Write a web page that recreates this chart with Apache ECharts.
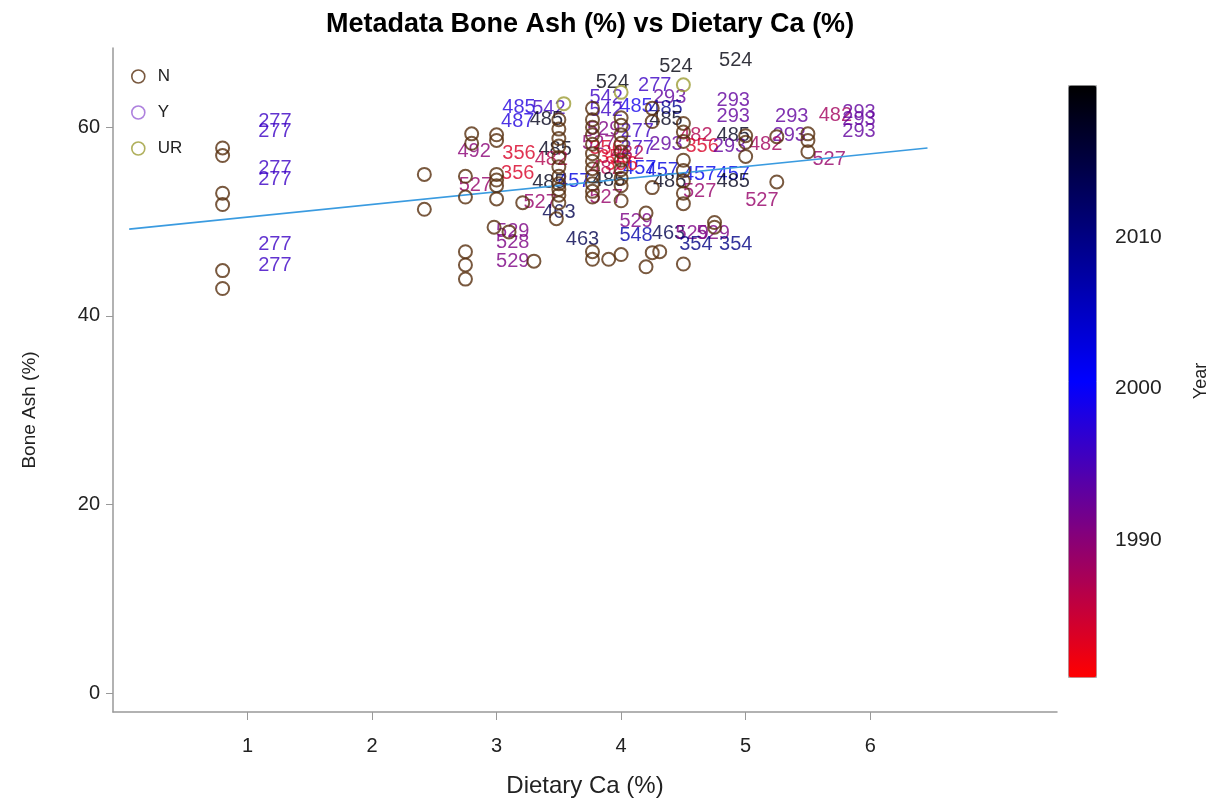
<!DOCTYPE html>
<html>
<head>
<meta charset="utf-8">
<script src="https://cdn.jsdelivr.net/npm/echarts@6/dist/echarts.min.js"></script>
<style>html,body{margin:0;padding:0;background:#fff}#c{width:1217px;height:808px}</style>
</head>
<body>
<div id="c"></div>
<script>
// ---- data ----
const xTicks = [1, 2, 3, 4, 5, 6];
const yTicks = [0, 20, 40, 60];
const yearTicks = [1990, 2000, 2010];
const groups = ['N', 'Y', 'UR'];

// circles: [dietary Ca %, bone ash %]
const circlesN = [
  [0.8,57.8],[0.8,57.0],[0.8,53.0],[0.8,51.8],[0.8,44.8],[0.8,42.9],
  [2.42,55.0],[2.42,51.3],
  [2.75,54.8],[2.75,52.6],[2.75,46.8],[2.75,45.4],[2.75,43.9],
  [2.8,59.3],[2.8,58.3],
  [3.0,59.2],[3.0,58.6],[3.0,55.0],[3.0,54.4],[3.0,53.8],[3.0,52.4],[2.98,49.4],
  [3.1,48.9],[3.3,45.8],[3.21,52.0],
  [3.5,60.8],[3.5,59.8],[3.5,58.8],[3.5,58.0],[3.5,56.8],[3.5,55.8],[3.5,54.8],[3.5,54.0],[3.5,53.4],[3.5,52.8],[3.5,52.0],[3.48,50.3],
  [3.77,62.0],[3.77,60.8],[3.77,60.0],[3.77,59.2],[3.77,58.2],[3.77,57.2],[3.77,56.4],[3.77,55.6],[3.77,54.8],[3.77,54.0],[3.77,53.2],[3.77,52.6],[3.77,46.8],[3.77,46.0],
  [3.9,46.0],
  [4.0,61.0],[4.0,60.2],[4.0,59.2],[4.0,58.3],[4.0,57.4],[4.0,56.5],[4.0,55.5],[4.0,54.6],[4.0,53.8],[4.0,52.2],[4.0,46.5],
  [4.2,50.9],[4.2,45.2],[4.25,62.0],[4.25,60.6],[4.25,53.6],[4.25,46.7],[4.31,46.8],
  [4.5,60.4],[4.5,59.5],[4.5,58.5],[4.5,56.5],[4.5,55.4],[4.5,54.3],[4.5,53.0],[4.5,51.9],[4.5,45.5],
  [4.75,49.9],[4.75,49.4],
  [5.0,59.1],[5.0,58.4],[5.0,56.9],
  [5.25,59.0],[5.25,54.2],
  [5.5,59.3],[5.5,58.6],[5.5,57.4]
];
const circlesY = [];
const circlesUR = [[3.54,62.5],[4.0,63.7],[4.5,64.5]];

// study labels: [x, y, study id, year]
const labelX = [1.22,1.22,1.22,1.22,1.22,1.22, 3.93,4.44,4.92,4.27,
  3.18,3.42,3.17,3.40, 2.82,3.18,3.47,3.44,3.17,3.42,2.83,3.62,3.35,3.50,3.13,3.13,3.13,3.69,
  3.88,4.12,4.39,4.36,3.88,4.36,4.13,4.13,4.36,4.33,4.15,4.39,3.88,3.86,3.82,
  3.88,3.95,4.00,3.88,4.05,3.90,
  4.12,4.12,4.38,4.57,4.74,4.60,4.92,
  4.90,4.90,5.37,5.72,5.91,5.91,5.91,5.35,4.90,4.60,4.65,4.87,5.16,4.63,4.90,4.90,4.63,5.13,5.67];
const labelY = [60.6,59.6,55.6,54.5,47.6,45.3, 64.7,66.4,67.1,64.4,
  62.1,62.0,60.6,60.8, 57.4,57.2,57.6,56.6,55.1,54.1,53.8,54.2,52.0,51.0,48.9,47.8,45.8,48.1,
  63.2,62.2,63.2,62.0,61.8,60.8,59.6,57.7,58.2,55.4,55.6,54.3,52.6,59.8,58.3,
  57.7,56.8,56.0,55.6,57.2,54.4,
  50.0,48.5,48.7,48.7,48.7,47.6,47.6,
  62.8,61.1,61.1,61.2,61.6,60.8,59.6,59.1,59.1,59.1,58.0,58.0,58.2,55.0,55.0,54.2,53.2,52.2,56.6];
const labelId = ['277','277','277','277','277','277','524','524','524','277',
  '485','542','487','485','492','356','485','482','356','485','527','457','527','463','529','528','529','463',
  '542','485','293','485','542','485','277','277','293','457','457','485','527','529','527',
  '356','356','356','482','482','485',
  '529','548','463','529','529','354','354',
  '293','293','293','482','293','293','293','293','485','482','356','293','482','457','457','485','527','527','527'];
const labelYear = [1996,1996,1996,1996,1996,1996,2019,2019,2019,1996,
  1998,1996,1998,2018,1990,1984,2018,1987,1984,2018,1989,2003,1989,2014,1991,1991,1991,2014,
  1996,1999,1993,2009,1996,2018,1996,1996,1993,2003,2002,2018,1989,1991,1990,
  1984,1984,1983,1987,1987,2018,
  1991,2007,2014,1991,1991,2010,2010,
  1993,1993,1993,1988,1993,1993,1993,1993,2018,1987,1984,1993,1988,2002,2002,2018,1989,1989,1989];

// regression line end points
const fitLine = [[0.05,49.2],[6.46,57.8]];

const yearMin = 1981, yearMax = 2020;
const rampColors = ['#ff0000', '#0000ff', '#000000'];

// ---- chart ----
function ramp(y) {
  const mid = (yearMin + yearMax) / 2;
  let r, g = 0, b;
  if (y <= mid) { const t = Math.max(0, (y - yearMin) / (mid - yearMin)); r = 255 * (1 - t); b = 255 * t; }
  else { const t = Math.min(1, (y - mid) / (yearMax - mid)); r = 0; b = 255 * (1 - t); }
  return 'rgb(' + Math.round(r) + ',' + g + ',' + Math.round(b) + ')';
}
const FONT = "'Liberation Sans', Arial, sans-serif";
const colN = '#57300f', colY = '#9a62d6', colUR = '#9c9c34';

const labelData = labelX.map((x, i) => ({
  name: labelId[i],
  value: [x, labelY[i], labelYear[i]],
  label: { color: ramp(labelYear[i]) }
}));

function circleSeries(name, data, color) {
  return {
    type: 'scatter', name, data, symbol: 'circle', symbolSize: 13, silent: true, z: 4,
    itemStyle: { color: 'rgba(0,0,0,0)', borderColor: color, borderWidth: 2 }
  };
}

const chart = echarts.init(document.getElementById('c'), null, { renderer: 'canvas' });
chart.setOption({
  animation: false,
  backgroundColor: '#fff',
  textStyle: { fontFamily: FONT },
  title: {
    text: 'Metadata Bone Ash (%) vs Dietary Ca (%)', left: 321, top: 6,
    textStyle: { fontFamily: FONT, fontSize: 27, fontWeight: 'bold', color: '#000' }
  },
  legend: {
    orient: 'vertical', left: 126, top: 63, itemWidth: 13, itemHeight: 13, itemGap: 19,
    textStyle: { fontFamily: FONT, fontSize: 17, color: '#222', lineHeight: 16, padding: [0, 0, 0, 8] },
    data: [
      { name: 'N', icon: 'circle', itemStyle: { color: 'rgba(0,0,0,0)', borderColor: colN, borderWidth: 1.6 } },
      { name: 'Y', icon: 'circle', itemStyle: { color: 'rgba(0,0,0,0)', borderColor: colY, borderWidth: 1.6 } },
      { name: 'UR', icon: 'circle', itemStyle: { color: 'rgba(0,0,0,0)', borderColor: colUR, borderWidth: 1.6 } }
    ]
  },
  grid: [
    { left: 113, top: 48, right: 160, bottom: 96 },
    { left: 1068, top: 85, width: 28, height: 592 }
  ],
  xAxis: [
    {
      type: 'value', gridIndex: 0, min: -0.08, max: 7.5,
      name: 'Dietary Ca (%)', nameLocation: 'middle', nameGap: 62,
      nameTextStyle: { fontFamily: FONT, fontSize: 24, color: '#222' },
      axisLine: { show: true, onZero: false, lineStyle: { color: '#999', width: 1.5 } },
      axisTick: { show: true, length: 8, customValues: xTicks, lineStyle: { color: '#999' } },
      axisLabel: { customValues: xTicks, fontSize: 20, color: '#222', margin: 24, fontFamily: FONT },
      splitLine: { show: false }
    },
    { type: 'value', gridIndex: 1, show: false, min: 0, max: 1 }
  ],
  yAxis: [
    {
      type: 'value', gridIndex: 0, min: -2, max: 68.4,
      name: 'Bone Ash (%)', nameLocation: 'middle', nameGap: 74,
      nameTextStyle: { fontFamily: FONT, fontSize: 19, color: '#222', padding: [0, 60, 0, 0] },
      axisLine: { show: true, onZero: false, lineStyle: { color: '#999', width: 1.5 } },
      axisTick: { show: true, length: 7, customValues: yTicks, lineStyle: { color: '#999' } },
      axisLabel: { customValues: yTicks, fontSize: 20, color: '#222', margin: 13, fontFamily: FONT },
      splitLine: { show: false }
    },
    {
      type: 'value', gridIndex: 1, min: yearMin, max: yearMax, position: 'right',
      name: 'Year', nameLocation: 'middle', nameRotate: 90, nameGap: 96,
      nameTextStyle: { fontFamily: FONT, fontSize: 18, color: '#222' },
      axisLine: { show: false },
      axisTick: { show: true, length: 10, customValues: yearTicks, lineStyle: { color: '#888' } },
      axisLabel: { customValues: yearTicks, fontSize: 21, color: '#222', margin: 19, fontFamily: FONT,
        formatter: v => String(v) },
      splitLine: { show: false }
    }
  ],
  visualMap: {
    type: 'continuous', min: yearMin, max: yearMax, dimension: 2, seriesIndex: 1,
    left: 1068, top: 85, itemWidth: 28, itemHeight: 592, padding: 0,
    calculable: false, text: ['', ''], showLabel: false, hoverLink: false,
    borderColor: '#aaa', borderWidth: 1,
    inRange: { color: rampColors }
  },
  series: [
    {
      type: 'line', name: 'fit', data: fitLine, symbol: 'none', silent: true, z: 3,
      lineStyle: { color: '#3a9be0', width: 1.6 }
    },
    {
      type: 'scatter', name: 'labels', data: labelData, symbolSize: 0.1, silent: true, z: 2,
      label: { show: true, position: 'inside', formatter: '{b}', fontSize: 20, fontFamily: FONT }
    },
    circleSeries('N', circlesN, colN),
    circleSeries('Y', circlesY, colY),
    circleSeries('UR', circlesUR, colUR)
  ]
});
</script>
</body>
</html>
